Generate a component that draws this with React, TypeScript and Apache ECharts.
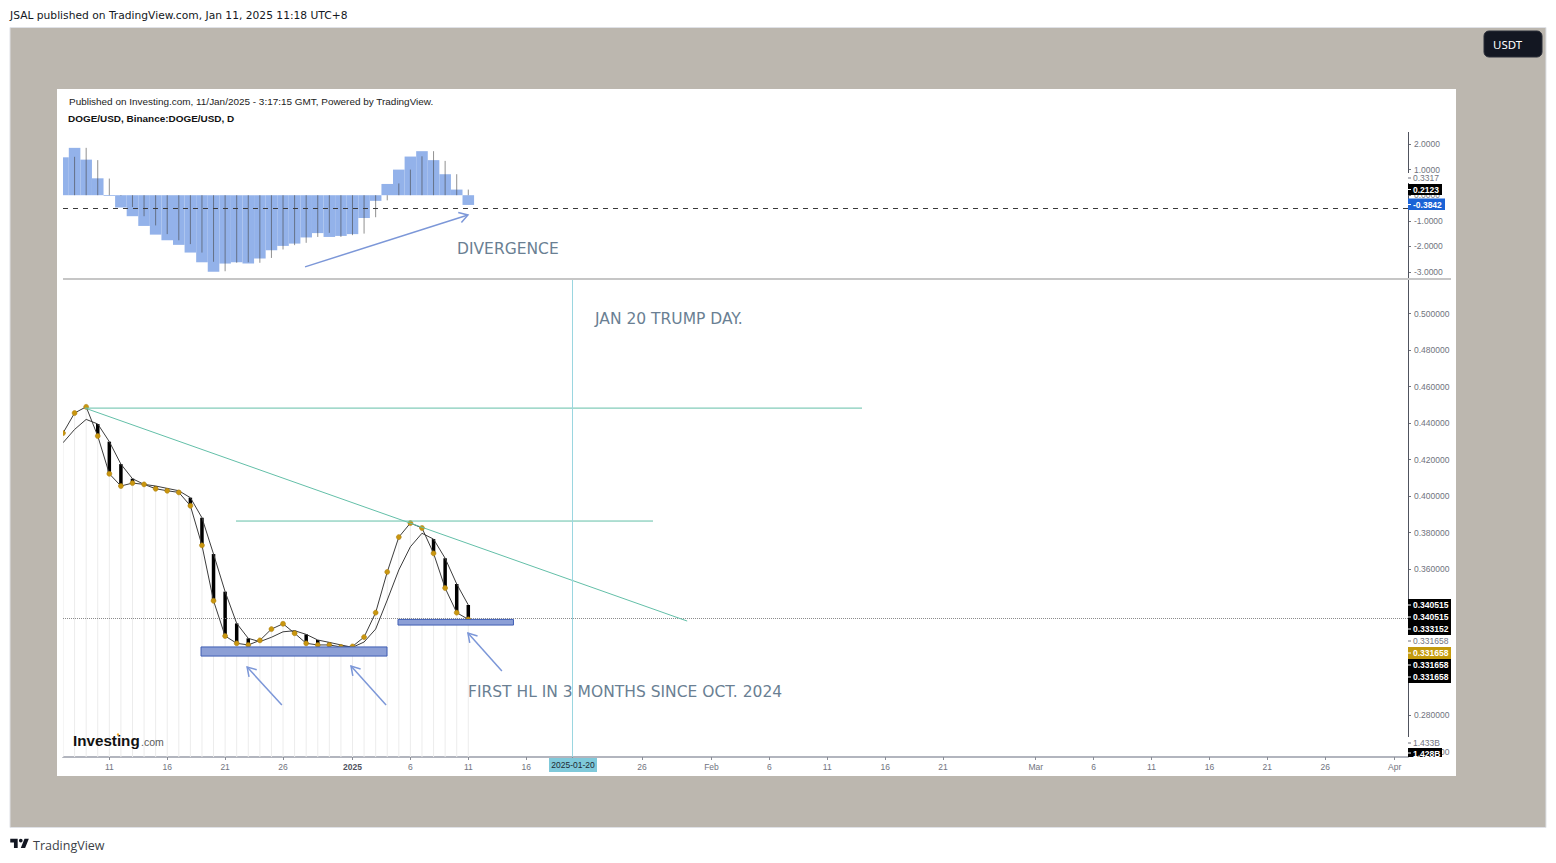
import { useEffect, useRef } from "react"
import * as echarts from "echarts"

// price pane, one value per day counted from 7 Dec 2024
const closePrices = [0.4345, 0.4455, 0.4489, 0.4329, 0.4122, 0.4055, 0.4071, 0.4064, 0.404, 0.4029, 0.402, 0.3947, 0.373, 0.3426, 0.3233, 0.3193, 0.3184, 0.3209, 0.3271, 0.33, 0.3248, 0.3193, 0.3184, 0.3184, 0.3173, 0.3176, 0.3227, 0.3361, 0.3584, 0.3775, 0.3852, 0.3825, 0.3686, 0.3496, 0.3361, 0.3324]
const slowPrices = [0.4292, 0.4365, 0.442, 0.4395, 0.4298, 0.4175, 0.4095, 0.4064, 0.4055, 0.4042, 0.4029, 0.3991, 0.3881, 0.3682, 0.3476, 0.3302, 0.322, 0.3202, 0.3226, 0.3256, 0.3262, 0.3242, 0.3211, 0.3198, 0.3184, 0.3171, 0.32, 0.3271, 0.343, 0.3595, 0.3722, 0.3796, 0.3764, 0.3659, 0.3518, 0.3403]

// indicator pane
const histogram = [1.48, 1.85, 1.39, 0.66, -0.03, -0.48, -0.82, -1.2, -1.54, -1.76, -1.94, -2.24, -2.62, -2.99, -2.67, -2.62, -2.67, -2.47, -2.15, -1.98, -1.89, -1.65, -1.48, -1.63, -1.59, -1.52, -0.89, -0.22, 0.44, 1.0, 1.51, 1.72, 1.37, 0.82, 0.22, -0.38]
const signalStems = [1.48, 1.5, 1.85, 1.37, 0.65, -0.02, -0.46, -0.82, -1.18, -1.52, -1.76, -1.91, -2.24, -2.6, -2.97, -2.64, -2.62, -2.64, -2.45, -2.12, -1.95, -1.86, -1.63, -1.47, -1.63, -1.56, -1.5, -0.86, -0.2, 0.46, 1.0, 1.52, 1.72, 1.34, 0.82, 0.22]

// time axis
const tickDays = [4, 9, 14, 19, 25, 30, 35, 40, 50, 56, 61, 66, 71, 76, 84, 89, 94, 99, 104, 109, 115]
const tickLabels = ["11", "16", "21", "26", "2025", "6", "11", "16", "26", "Feb", "6", "11", "16", "21", "Mar", "6", "11", "16", "21", "26", "Apr"]

const indicatorTicks = [2, 1, 0, -1, -2, -3]
const priceTicks = [0.5, 0.48, 0.46, 0.44, 0.42, 0.4, 0.38, 0.36, 0.28, 0.26]

// drawings on the chart: [day, price, day, price]
const trendLines = [
  [1.9, 0.4482, 69, 0.4482],
  [14.94, 0.3863, 50.95, 0.3863],
  [1.9, 0.4482, 53.9, 0.3315],
]
const zones = [
  [11.92, 0.3173, 27.98, 0.3123],
  [28.93, 0.3324, 38.9, 0.3293],
]
const priceArrows = [
  [18.9, 0.2855, 15.9, 0.3063],
  [27.9, 0.2855, 24.87, 0.3068],
  [37.9, 0.3041, 34.97, 0.3249],
]
const indicatorArrows = [[20.9, -2.8, 34.97, -0.77]]
const eventDay = 44
const lastPriceLevel = 0.333152
const dashedLevel = -0.52

const priceTags = [
  { text: "0.340515", kind: "black" },
  { text: "0.340515", kind: "black" },
  { text: "0.333152", kind: "black" },
  { text: "0.331658", kind: "plain" },
  { text: "0.331658", kind: "gold" },
  { text: "0.331658", kind: "black" },
  { text: "0.331658", kind: "black" },
]

const GRID_LEFT = 63
const GRID_WIDTH = 1345
const X_MAX = 116.15
const ARROW_BLUE = "#7c97d8"
const GREEN = "#63bfa8"
const NOTE_GREY = "#6a7f93"
const AXIS_TEXT = "#70737e"
const AXIS_FONT = "Liberation Sans"

echarts.graphic.registerShape(
  "tvLogo",
  echarts.graphic.extendPath("M14 6H2v6h6v9h6V6Zm12 15h-7l6-15h7l-6 15Zm-7-9a3 3 0 1 0 0-6 3 3 0 0 0 0 6Z", {}) as any
)

const daily = (values: number[]) => values.map((v, i) => [i, v])

// one thin line per pair of points
const segmentsSeries = (rows: number[][], color: string, xAxisIndex: number) => ({
  type: "custom",
  xAxisIndex,
  yAxisIndex: xAxisIndex,
  data: rows,
  encode: { x: [0, 2], y: [1, 3] },
  silent: true,
  z: 6,
  renderItem: (_: any, api: any) => {
    const a = api.coord([api.value(0), api.value(1)])
    const b = api.coord([api.value(2), api.value(3)])
    return {
      type: "line",
      shape: { x1: a[0], y1: a[1], x2: b[0], y2: b[1] },
      style: { stroke: color, lineWidth: 1 },
    }
  },
})

const arrowsSeries = (rows: number[][], xAxisIndex: number) => ({
  type: "custom",
  xAxisIndex,
  yAxisIndex: xAxisIndex,
  data: rows,
  encode: { x: [0, 2], y: [1, 3] },
  silent: true,
  z: 7,
  renderItem: (_: any, api: any) => {
    const a = api.coord([api.value(0), api.value(1)])
    const b = api.coord([api.value(2), api.value(3)])
    const angle = Math.atan2(a[1] - b[1], a[0] - b[0])
    const head = (turn: number) => [b[0] + 10 * Math.cos(angle + turn), b[1] + 10 * Math.sin(angle + turn)]
    const style = { stroke: ARROW_BLUE, lineWidth: 1.5, fill: "none" }
    return {
      type: "group",
      children: [
        { type: "line", shape: { x1: a[0], y1: a[1], x2: b[0], y2: b[1] }, style },
        { type: "polyline", shape: { points: [head(0.55), b, head(-0.55)] }, style },
      ],
    }
  },
})

const tagElements = () => {
  const out: any[] = []
  const tagText = (text: string, y: number, fill: string, weight = "bold") => ({
    type: "text",
    z: 101,
    x: 1413,
    y,
    style: { text, fill, font: `${weight} 8.5px "${AXIS_FONT}"`, textVerticalAlign: "middle" },
  })
  const tagBox = (x: number, y: number, width: number, height: number, fill: string) => ({
    type: "rect",
    z: 100,
    shape: { x, y, width, height },
    style: { fill },
  })
  const tagTick = (y: number, stroke: string) => ({
    type: "line",
    z: 101,
    shape: { x1: 1408, y1: y, x2: 1411, y2: y },
    style: { stroke, lineWidth: 1 },
  })

  priceTags.forEach((tag, i) => {
    const y = 605 + i * 12
    const fill = tag.kind === "gold" ? "#c49a0c" : tag.kind === "black" ? "#000000" : "#ffffff"
    out.push(tagBox(1408, y - 6, 43, 12, fill))
    out.push(tagTick(y, tag.kind === "plain" ? AXIS_TEXT : "#ffffff"))
    out.push(tagText(tag.text, y, tag.kind === "plain" ? AXIS_TEXT : "#ffffff", tag.kind === "plain" ? "normal" : "bold"))
  })

  // volume pane labels
  out.push(tagBox(1408, 737, 36, 11, "#ffffff"))
  out.push(tagTick(743, AXIS_TEXT))
  out.push(tagText("1.433B", 743, AXIS_TEXT, "normal"))
  out.push(tagBox(1408, 748, 34, 9, "#000000"))
  out.push(tagTick(753, "#ffffff"))
  out.push(tagText("1.428B", 754, "#ffffff"))

  // indicator pane labels
  out.push(tagBox(1408, 173, 34, 10, "#ffffff"))
  out.push(tagTick(178, AXIS_TEXT))
  out.push(tagText("0.3317", 178, AXIS_TEXT, "normal"))
  out.push(tagBox(1408, 184, 34, 11, "#000000"))
  out.push(tagTick(189.5, "#ffffff"))
  out.push(tagText("0.2123", 189.5, "#ffffff"))
  out.push(tagBox(1408, 198.5, 37, 11.5, "#1b63d6"))
  out.push(tagTick(204.5, "#ffffff"))
  out.push(tagText("-0.3842", 204.5, "#ffffff"))

  return out
}

const note = (text: string, x: number, y: number) => ({
  type: "text",
  z: 20,
  x,
  y,
  style: { text, fill: NOTE_GREY, font: '15.5px "DejaVu Sans"', textVerticalAlign: "middle" },
})

export default function App() {
  const chartRef = useRef<HTMLDivElement>(null)

  useEffect(() => {
    if (!chartRef.current) return
    const chart = echarts.init(chartRef.current, undefined, { renderer: "svg" })

    chart.setOption({
      animation: false,
      backgroundColor: "#ffffff",
      grid: [
        { left: GRID_LEFT, width: GRID_WIDTH, top: 133, height: 146, show: false },
        { left: GRID_LEFT, width: GRID_WIDTH, top: 280, height: 477, show: false },
      ],
      xAxis: [
        { type: "value", gridIndex: 0, min: 0, max: X_MAX, show: false, splitLine: { show: false } },
        {
          type: "value",
          gridIndex: 1,
          min: 0,
          max: X_MAX,
          splitLine: { show: false },
          axisLine: { show: true, onZero: false, lineStyle: { color: "#b2b5be", width: 2 } },
          axisTick: { show: true, length: 3, customValues: [...tickDays, eventDay], lineStyle: { color: "#8a8d96" } },
          axisLabel: {
            customValues: tickDays,
            margin: 5,
            fontSize: 8.5,
            fontFamily: AXIS_FONT,
            color: AXIS_TEXT,
            formatter: (v: number) => {
              const label = tickLabels[tickDays.indexOf(v)]
              return label === "2025" ? `{strong|${label}}` : label
            },
            rich: { strong: { fontSize: 8.5, fontFamily: AXIS_FONT, fontWeight: "bold", color: "#50535e" } },
          },
        },
      ],
      yAxis: [
        {
          type: "value",
          gridIndex: 0,
          position: "right",
          min: -3.273,
          max: 2.43,
          splitLine: { show: false },
          axisLine: { show: false, onZero: false },
          axisTick: { show: true, length: 3, customValues: indicatorTicks, lineStyle: { color: AXIS_TEXT } },
          axisLabel: {
            customValues: indicatorTicks,
            margin: 6,
            fontSize: 8.5,
            fontFamily: AXIS_FONT,
            color: AXIS_TEXT,
            formatter: (v: number) => v.toFixed(4),
          },
        },
        {
          type: "value",
          gridIndex: 1,
          position: "right",
          min: 0.25699,
          max: 0.5184,
          splitLine: { show: false },
          axisLine: { show: false, onZero: false },
          axisTick: { show: true, length: 3, customValues: priceTicks, lineStyle: { color: AXIS_TEXT } },
          axisLabel: {
            customValues: priceTicks,
            margin: 6,
            fontSize: 8.5,
            fontFamily: AXIS_FONT,
            color: AXIS_TEXT,
            formatter: (v: number) => v.toFixed(6),
          },
        },
      ],
      series: [
        {
          type: "bar",
          xAxisIndex: 0,
          yAxisIndex: 0,
          barWidth: 11.58,
          clip: true,
          data: daily(histogram),
          silent: true,
          z: 2,
          itemStyle: { color: "#93b2ea" },
          markLine: {
            silent: true,
            symbol: "none",
            label: { show: false },
            lineStyle: { color: "#3a3a3a", type: [5, 5], width: 1 },
            data: [{ yAxis: dashedLevel }],
          },
        },
        {
          type: "custom",
          xAxisIndex: 0,
          yAxisIndex: 0,
          data: daily(signalStems).slice(1),
          silent: true,
          z: 3,
          renderItem: (_: any, api: any) => {
            const a = api.coord([api.value(0), 0])
            const b = api.coord([api.value(0), api.value(1)])
            return {
              type: "line",
              shape: { x1: a[0], y1: a[1], x2: b[0], y2: b[1] },
              style: { stroke: "rgba(70,70,70,0.6)", lineWidth: 1 },
            }
          },
        },
        arrowsSeries(indicatorArrows, 0),

        // pale drop lines under the close
        {
          type: "bar",
          xAxisIndex: 1,
          yAxisIndex: 1,
          barWidth: 1,
          data: daily(closePrices),
          silent: true,
          z: 1,
          itemStyle: { color: "#ececec" },
          markLine: {
            silent: true,
            symbol: "none",
            precision: 6,
            label: { show: false },
            lineStyle: { color: "#8c8c8c", type: [1, 1], width: 1 },
            data: [{ yAxis: lastPriceLevel }],
          },
        },
        // candle body between slow line and close on falling days
        {
          type: "custom",
          xAxisIndex: 1,
          yAxisIndex: 1,
          data: closePrices.map((c, i) => [i, slowPrices[i], c]).filter((r) => r[2] < r[1]),
          encode: { x: 0, y: [1, 2] },
          silent: true,
          z: 4,
          renderItem: (_: any, api: any) => {
            const top = api.coord([api.value(0), api.value(1)])
            const bottom = api.coord([api.value(0), api.value(2)])
            return {
              type: "rect",
              shape: { x: top[0] - 1.75, y: top[1], width: 3.5, height: bottom[1] - top[1] },
              style: { fill: "#000000" },
            }
          },
        },
        {
          type: "line",
          xAxisIndex: 1,
          yAxisIndex: 1,
          data: daily(slowPrices),
          showSymbol: false,
          silent: true,
          z: 5,
          lineStyle: { color: "#3c3c3c", width: 1 },
        },
        {
          type: "line",
          xAxisIndex: 1,
          yAxisIndex: 1,
          data: daily(closePrices),
          symbol: "circle",
          symbolSize: 5,
          silent: true,
          z: 5,
          lineStyle: { color: "#3c3c3c", width: 1 },
          itemStyle: { color: "#c9960f", borderColor: "#a87c10", borderWidth: 0.5 },
        },
        segmentsSeries(trendLines, GREEN, 1),
        segmentsSeries([[eventDay, 0.5184, eventDay, 0.25699]], "#9ad6e0", 1),
        // support zones
        {
          type: "custom",
          xAxisIndex: 1,
          yAxisIndex: 1,
          data: zones,
          encode: { x: [0, 2], y: [1, 3] },
          silent: true,
          z: 6,
          renderItem: (_: any, api: any) => {
            const a = api.coord([api.value(0), api.value(1)])
            const b = api.coord([api.value(2), api.value(3)])
            return {
              type: "rect",
              shape: { x: a[0], y: a[1], width: b[0] - a[0], height: b[1] - a[1] },
              style: { fill: "#8c9fd6", stroke: "#3f5db3", lineWidth: 1 },
            }
          },
        },
        arrowsSeries(priceArrows, 1),
      ],
      graphic: [
        // page frame and white chart plate
        { type: "rect", z: -3, shape: { x: 10, y: 27.5, width: 1536, height: 800 }, style: { fill: "#bcb7af", stroke: "#dfe1e6", lineWidth: 1 } },
        { type: "rect", z: -2, shape: { x: 57, y: 89, width: 1399, height: 687 }, style: { fill: "#ffffff" } },
        // trims what spills left of the first day
        { type: "rect", z: 10, shape: { x: 57, y: 130, width: 6, height: 627 }, style: { fill: "#ffffff" } },
        { type: "text", x: 10, y: 15, style: { text: "JSAL published on TradingView.com, Jan 11, 2025 11:18 UTC+8", fill: "#131722", font: '10.7px "DejaVu Sans"', textVerticalAlign: "middle" } },
        { type: "rect", z: 5, shape: { x: 1484, y: 31, width: 58, height: 26, r: 5 }, style: { fill: "#131722", stroke: "#2a2e39", lineWidth: 1 } },
        { type: "text", z: 6, x: 1493, y: 44.5, style: { text: "USDT", fill: "#ffffff", font: '11.5px "Noto Sans"', textVerticalAlign: "middle" } },
        { type: "tvLogo", x: 9, y: 835, scaleX: 0.62, scaleY: 0.62, style: { fill: "#131722" } } as any,
        { type: "text", x: 33, y: 845, style: { text: "TradingView", fill: "#3c3f47", font: '12.5px "Open Sans"', textVerticalAlign: "middle" } },

        { type: "text", z: 20, x: 69, y: 101, style: { text: "Published on Investing.com, 11/Jan/2025 - 3:17:15 GMT, Powered by TradingView.", fill: "#222222", font: '9.95px "Liberation Sans"', textVerticalAlign: "middle" } },
        { type: "text", z: 20, x: 68, y: 118, style: { text: "DOGE/USD, Binance:DOGE/USD, D", fill: "#111111", font: 'bold 9.95px "Liberation Sans"', textVerticalAlign: "middle" } },

        note("DIVERGENCE", 457, 249),
        note("JAN 20 TRUMP DAY.", 595, 319),
        note("FIRST HL IN 3 MONTHS SINCE OCT. 2024", 468, 692),

        // Investing.com mark
        { type: "text", z: 20, x: 73, y: 740, style: { text: "Investing", fill: "#111111", font: 'bold 15.2px "Liberation Sans"', textVerticalAlign: "middle" } },
        { type: "text", z: 20, x: 141, y: 742, style: { text: ".com", fill: "#5c5c5c", font: '10.5px "Liberation Sans"', textVerticalAlign: "middle" } },
        { type: "circle", z: 21, shape: { cx: 118, cy: 734.5, r: 1.2 }, style: { fill: "#f4a41c" } },

        // pane separator and price scale rule
        { type: "line", z: 11, shape: { x1: 63, y1: 279, x2: 1451, y2: 279 }, style: { stroke: "#c6c6c6", lineWidth: 2 } },
        { type: "line", z: 9, shape: { x1: 1408.5, y1: 132, x2: 1408.5, y2: 737 }, style: { stroke: "#50535e", lineWidth: 1 } },

        // date marker on the time axis
        { type: "rect", z: 30, shape: { x: 549, y: 758, width: 48, height: 14 }, style: { fill: "#7fc9da" } },
        { type: "text", z: 31, x: 573, y: 765, style: { text: "2025-01-20", fill: "#1e2a33", font: '8.5px "Liberation Sans"', textAlign: "center", textVerticalAlign: "middle" } },

        ...tagElements(),
      ],
    })

    return () => {
      chart.dispose()
    }
  }, [])

  return <div ref={chartRef} style={{ position: "fixed", left: 0, top: 0, width: 1556, height: 863 }} />
}
